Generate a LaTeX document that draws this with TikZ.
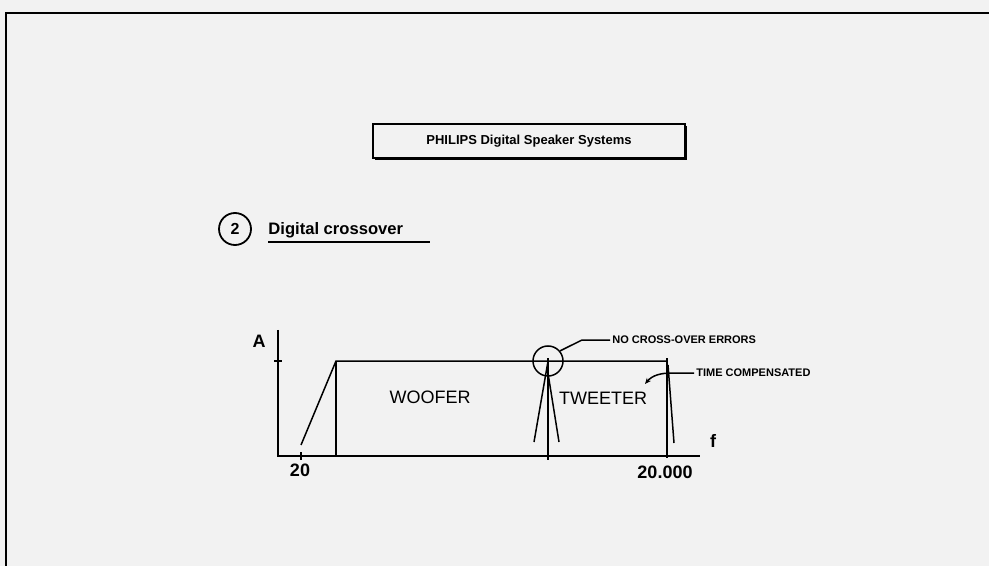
\documentclass[tikz,border=0pt]{standalone}
\usepackage{fontspec}
\setmainfont{Liberation Sans}
\usetikzlibrary{arrows.meta,shadows}

\tikzset{
  curve/.style={line width=0.75pt},
  axis/.style={line width=0.8pt},
  note/.style={font=\fontsize{5.5}{6}\selectfont\bfseries, inner sep=1pt},
  band/.style={font=\fontsize{9}{10}\selectfont},
  scale label/.style={font=\fontsize{9}{10}\selectfont\bfseries, inner sep=1pt},
}

\begin{document}
\begin{tikzpicture}[x=0.5pt, y=-0.5pt]
\useasboundingbox (0,0) rectangle (989,566);
\fill[black!5] (0,0) rectangle (989,566);
% frame
\draw[line width=1.3pt] (989,13) -- (6,13) -- (6,566);

% title box
\node[draw, line width=0.6pt, fill=black!5, minimum width=156pt, minimum height=17pt,
      drop shadow={shadow xshift=1.2pt, shadow yshift=-1.2pt, opacity=1, fill=black},
      font=\fontsize{6.5}{7}\selectfont\bfseries] (title) at (529,141) {PHILIPS Digital Speaker Systems};

% heading
\node[draw, circle, line width=0.9pt, minimum size=16pt, inner sep=0pt,
      font=\fontsize{8}{9}\selectfont\bfseries] (num) at (235,229) {2};
\node[anchor=base west, inner sep=0pt, font=\fontsize{8.3}{9}\selectfont\bfseries] (head) at (268,235) {Digital crossover};
\draw[curve] (head.base west) ++(0,7) -- ++(162,0);

% axes
\coordinate (O) at (278,456);
\draw[axis] (278,330) -- (O) -- (700,456);
\draw[axis] (274,361) -- (282,361);
\draw[axis] (301,452) -- (301,460);
\node[scale label] (A) at (259,341) {A};
\node[scale label] (f) at (713,441) {f};
\node[scale label] (lo) at (300,470) {20};
\node[scale label] (hi) at (665,472) {20.000};

% woofer
\draw[curve] (301,445) -- (336,361) -- (667,361);
\draw[curve] (336,361) -- (336,456);
\node[band] (woofer) at (430,397) {WOOFER};

% tweeter
\draw[curve] (548,358) -- (548,460);
\draw[curve] (534,442) -- (547,367) -- (559,442);
\draw[curve] (667,358) -- (667,458);
\draw[curve] (668,365) -- (674,443);
\node[band] (tweeter) at (603,398) {TWEETER};

% notes
\node[draw, circle, curve, minimum size=15pt, inner sep=0pt] (xover) at (548,361) {};
\node[note, anchor=west] (noerr) at (610,340) {NO CROSS-OVER ERRORS};
\draw[curve] (noerr.west) -- ++(-28,0) -- (xover.40);
\node[note, anchor=west] (timecomp) at (694,373) {TIME COMPENSATED};
\coordinate (tip) at (645,384);
\draw[curve, -{Stealth[length=3pt,width=2.5pt]}] (timecomp.west) -- ++(-22,0) to[out=180, in=50] (tip);
\end{tikzpicture}
\end{document}
